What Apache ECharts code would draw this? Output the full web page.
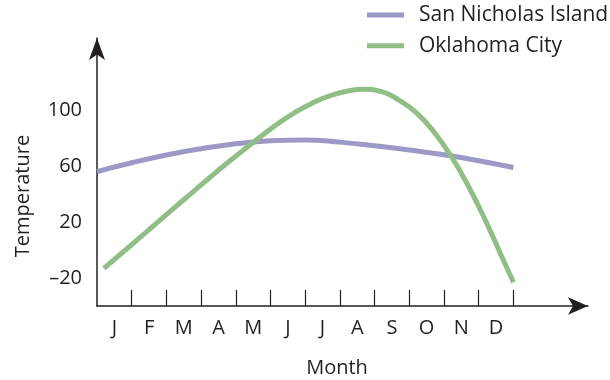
<!DOCTYPE html>
<html>
<head>
<meta charset="utf-8">
<script src="https://cdn.jsdelivr.net/npm/echarts@6/dist/echarts.min.js"></script>
<style>
  html, body { margin: 0; padding: 0; background: #fff; }
  #chart { width: 610px; height: 380px; }
</style>
</head>
<body>
<div id="chart"></div>
<script>
// month letters, one per category slot
const months = ["J", "F", "M", "A", "M", "J", "J", "A", "S", "O", "N", "D"];
const yLabels = [-20, 20, 60, 100];

// positions in months from the start of January
const sanPos = [0, 1, 2, 3, 4, 5, 6, 7, 8, 9, 10, 11, 12];
const sanTemp = [56.3, 62.6, 68.2, 72.7, 76.2, 78.4, 79, 77.4, 74.8, 71.8, 68.3, 64.1, 59.2];

const okcPos = [0.2, 0.7, 1.2, 1.7, 2.2, 2.7, 3.2, 3.7, 4.2, 4.7, 5.2, 5.7, 6.2, 6.7, 7.2, 7.7, 8.2, 8.7, 9.2, 9.7, 10.2, 10.7, 11.2, 11.7, 12];
const okcTemp = [-13.1, -2.4, 8.3, 19, 29.7, 40.4, 51, 61.4, 71.3, 81, 90.4, 98.6, 105.3, 110.5, 113.9, 115.2, 113.6, 107.5, 98.5, 85, 67.5, 46, 21, -6.5, -23];

const ink = "#231f20";
const font = "Open Sans";

function pairs(xs, ys) {
  return xs.map((x, i) => [x, ys[i]]);
}

const chart = echarts.init(document.getElementById("chart"));
const option = {
  animation: false,
  textStyle: { fontFamily: font },
  grid: { left: 97, right: 22, top: 38, bottom: 74 },
  legend: {
    orient: "vertical",
    left: 367,
    top: 4,
    padding: 0,
    icon: "rect",
    itemWidth: 37,
    itemHeight: 5,
    itemGap: 8.7,
    textStyle: { fontFamily: font, fontSize: 21, color: ink, lineHeight: 22, padding: [0, 0, 0, 10] },
    data: ["San Nicholas Island", "Oklahoma City"]
  },
  xAxis: {
    type: "value",
    min: 0,
    max: 14.15,
    splitLine: { show: false },
    axisLine: { onZero: false, lineStyle: { color: ink, width: 1.5 }, symbol: ["none", "arrow"], symbolSize: [13, 20] },
    axisTick: { show: true, inside: true, length: 16, lineStyle: { color: ink, width: 1.2 }, customValues: [1, 2, 3, 4, 5, 6, 7, 8, 9, 10, 11, 12] },
    axisLabel: {
      color: ink,
      fontSize: 20,
      fontFamily: font,
      margin: 12,
      customValues: months.map((m, i) => i + 0.5),
      formatter: v => months[Math.floor(v)]
    }
  },
  yAxis: {
    type: "value",
    min: -40,
    max: 152,
    splitLine: { show: false },
    axisLine: { show: true, onZero: false, lineStyle: { color: ink, width: 1.5 }, symbol: ["none", "arrow"], symbolSize: [12, 22] },
    axisTick: { show: false },
    axisLabel: {
      color: ink,
      fontSize: 20,
      fontFamily: font,
      margin: 15,
      customValues: yLabels,
      formatter: v => (v < 0 ? "\u2013" + Math.abs(v) : String(v))
    }
  },
  graphic: [
    {
      type: "text",
      x: 23,
      y: 196,
      rotation: Math.PI / 2,
      style: { text: "Temperature", font: "20px " + font, fill: ink, align: "center", verticalAlign: "middle" }
    },
    {
      type: "text",
      x: 337,
      y: 368,
      style: { text: "Month", font: "20px " + font, fill: ink, align: "center", verticalAlign: "middle" }
    }
  ],
  series: [
    {
      name: "San Nicholas Island",
      type: "line",
      smooth: 0.5,
      showSymbol: false,
      data: pairs(sanPos, sanTemp),
      lineStyle: { width: 5, color: "#9d99c7" },
      itemStyle: { color: "#9d99c7" }
    },
    {
      name: "Oklahoma City",
      type: "line",
      smooth: 0.5,
      showSymbol: false,
      data: pairs(okcPos, okcTemp),
      lineStyle: { width: 5, color: "#8fbf84" },
      itemStyle: { color: "#8fbf84" }
    }
  ]
};
chart.setOption(option);
</script>
</body>
</html>
